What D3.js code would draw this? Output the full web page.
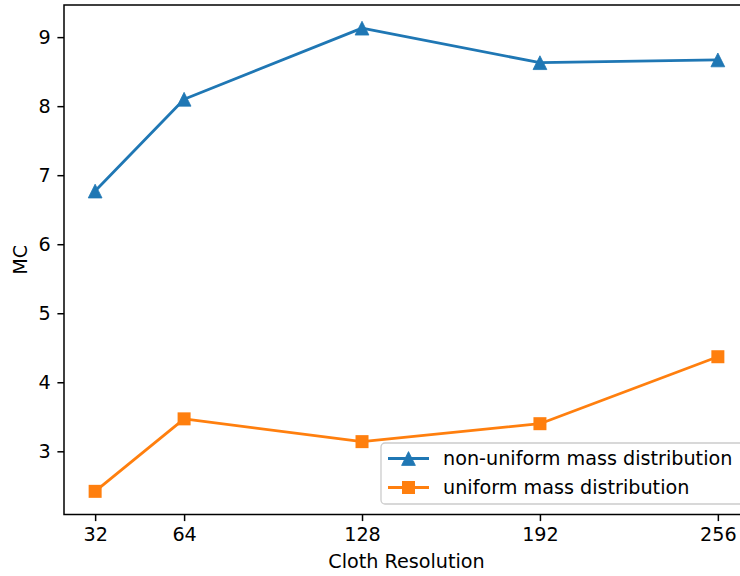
<!DOCTYPE html>
<html>
<head>
<meta charset="utf-8">
<script src="https://cdn.jsdelivr.net/npm/d3@7"></script>
<style>
  html, body { margin: 0; padding: 0; background: #fff; }
  svg { display: block; font-family: "DejaVu Sans", sans-serif; }
</style>
</head>
<body>
<div id="chart"></div>
<script>
// chart data
const resolutions = [32, 64, 128, 192, 256];
const nonUniform = [6.77, 8.10, 9.13, 8.63, 8.67];
const uniform = [2.42, 3.47, 3.14, 3.40, 4.37];
const xTicks = [32, 64, 128, 192, 256];
const yTicks = [3, 4, 5, 6, 7, 8, 9];

const seriesList = [
  { name: "non-uniform mass distribution", values: nonUniform, color: "#1f77b4", marker: "triangle" },
  { name: "uniform mass distribution", values: uniform, color: "#ff7f0e", marker: "square" }
];

const W = 740, H = 576;
const margin = { top: 5, left: 64 };
const plotW = 685, plotH = 509.5;
const fontSize = 19.2;

const svg = d3.select("#chart").append("svg")
  .attr("width", W)
  .attr("height", H);

// matplotlib-like 5% padding on both axes
function padded(lo, hi) {
  const p = (hi - lo) * 0.05;
  return [lo - p, hi + p];
}
const allY = nonUniform.concat(uniform);

const x = d3.scaleLinear()
  .domain(padded(d3.min(resolutions), d3.max(resolutions)))
  .range([0, plotW]);
const y = d3.scaleLinear()
  .domain(padded(d3.min(allY), d3.max(allY)))
  .range([plotH, 0]);

const g = svg.append("g")
  .attr("transform", "translate(" + margin.left + "," + margin.top + ")");

// axes
const xAxis = g.append("g")
  .attr("transform", "translate(0," + plotH + ")")
  .call(d3.axisBottom(x).tickValues(xTicks).tickSize(6.6).tickPadding(6.6).tickSizeOuter(0));
const yAxis = g.append("g")
  .call(d3.axisLeft(y).tickValues(yTicks).tickSize(6.6).tickPadding(6.6).tickSizeOuter(0));

[xAxis, yAxis].forEach(a => {
  a.select(".domain").remove();
  a.selectAll("line").attr("stroke", "#000").attr("stroke-width", 1.5);
  a.selectAll("text")
    .attr("fill", "#000")
    .style("font-family", "DejaVu Sans")
    .style("font-size", fontSize + "px");
});

// frame
g.append("rect")
  .attr("width", plotW)
  .attr("height", plotH)
  .attr("fill", "none")
  .attr("stroke", "#000")
  .attr("stroke-width", 1.5);

const line = d3.line()
  .x((d, i) => x(resolutions[i]))
  .y(d => y(d));

function drawMarker(sel, type, color) {
  if (type === "square") {
    sel.append("rect")
      .attr("x", -6.5).attr("y", -6.5)
      .attr("width", 13).attr("height", 13)
      .attr("fill", color);
  } else {
    const r = 6.9;
    sel.append("path")
      .attr("d", "M0," + (-r) + "L" + (-r) + "," + r + "L" + r + "," + r + "Z")
      .attr("fill", color)
      .attr("stroke", color)
      .attr("stroke-width", 0.8);
  }
}

seriesList.forEach(s => {
  g.append("path")
    .datum(s.values)
    .attr("d", line)
    .attr("fill", "none")
    .attr("stroke", s.color)
    .attr("stroke-width", 2.8)
    .attr("stroke-linejoin", "round");

  g.selectAll(null)
    .data(s.values)
    .enter().append("g")
    .attr("transform", (d, i) => "translate(" + x(resolutions[i]) + "," + y(d) + ")")
    .each(function () { drawMarker(d3.select(this), s.marker, s.color); });
});

// legend
const leg = svg.append("g").attr("transform", "translate(381,443)");
leg.append("rect")
  .attr("width", 372)
  .attr("height", 61)
  .attr("rx", 4)
  .attr("fill", "rgba(255,255,255,0.8)")
  .attr("stroke", "#cccccc")
  .attr("stroke-width", 1.3);

seriesList.forEach((s, i) => {
  const row = leg.append("g").attr("transform", "translate(0," + (15.5 + i * 29) + ")");
  row.append("line")
    .attr("x1", 7).attr("x2", 48)
    .attr("stroke", s.color)
    .attr("stroke-width", 2.8);
  const m = row.append("g").attr("transform", "translate(27.5,0)");
  drawMarker(m, s.marker, s.color);
  row.append("text")
    .attr("x", 62)
    .attr("dy", "0.36em")
    .style("font-size", fontSize + "px")
    .text(s.name);
});

// axis labels
svg.append("text")
  .attr("x", margin.left + (x(144)))
  .attr("y", 568)
  .attr("text-anchor", "middle")
  .style("font-size", fontSize + "px")
  .text("Cloth Resolution");

svg.append("text")
  .attr("transform", "translate(27," + (margin.top + plotH / 2) + ") rotate(-90)")
  .attr("text-anchor", "middle")
  .style("font-size", fontSize + "px")
  .text("MC");
</script>
</body>
</html>
